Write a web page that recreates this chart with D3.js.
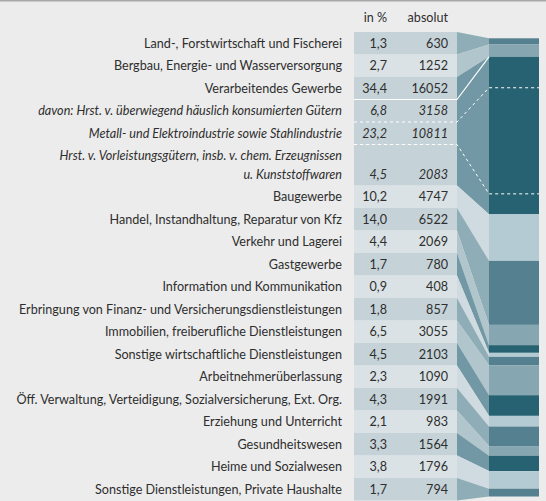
<!DOCTYPE html>
<html>
<head>
<meta charset="utf-8">
<script src="https://cdn.jsdelivr.net/npm/d3@7"></script>
<style>
  body { margin: 0; background: #ececec; }
  svg { display: block; font-family: Lato, sans-serif; }
</style>
</head>
<body>
<div class="container"></div>
<script>
var width = 546;
var height = 501;

// Wirtschaftszweige
var sectors = [
  'Land-, Forstwirtschaft und Fischerei',
  'Bergbau, Energie- und Wasserversorgung',
  'Verarbeitendes Gewerbe',
  'Baugewerbe',
  'Handel, Instandhaltung, Reparatur von Kfz',
  'Verkehr und Lagerei',
  'Gastgewerbe',
  'Information und Kommunikation',
  'Erbringung von Finanz- und Versicherungsdienstleistungen',
  'Immobilien, freiberufliche Dienstleistungen',
  'Sonstige wirtschaftliche Dienstleistungen',
  'Arbeitnehmerüberlassung',
  'Öff. Verwaltung, Verteidigung, Sozialversicherung, Ext. Org.',
  'Erziehung und Unterricht',
  'Gesundheitswesen',
  'Heime und Sozialwesen',
  'Sonstige Dienstleistungen, Private Haushalte'
];
var sharePct = [1.3, 2.7, 34.4, 10.2, 14.0, 4.4, 1.7, 0.9, 1.8, 6.5, 4.5, 2.3, 4.3, 2.1, 3.3, 3.8, 1.7];
var absolute = [630, 1252, 16052, 4747, 6522, 2069, 780, 408, 857, 3055, 2103, 1090, 1991, 983, 1564, 1796, 794];

// davon (Verarbeitendes Gewerbe)
var parentIndex = 2;
var subSectors = [
  'davon: Hrst. v. überwiegend häuslich konsumierten Gütern',
  'Metall- und Elektroindustrie sowie Stahlindustrie',
  'Hrst. v. Vorleistungsgütern, insb. v. chem. Erzeugnissen\nu. Kunststoffwaren'
];
var subPct = [6.8, 23.2, 4.5];
var subAbsolute = [3158, 10811, 2083];

var columnHeads = ['in %', 'absolut'];

var barColors = ['#54808f', '#86a6b1', '#266272', '#b5cbd4'];
var linkColors = ['#8fadb7', '#b1c5cc', '#7198a4', '#cfdbe0'];
var rowColors = ['#c5d2d8', '#dae2e5'];

var rowH = 22.5, lineH = 18.5, top0 = 32;
var tableX0 = 354, tableX1 = 457, barX0 = 489, barX1 = 539;
var labelX = 342, pctX = 387, absX = 448;
var fontSize = 12.6;

var fmtPct = function(v) { return d3.format('.1f')(v).replace('.', ','); };

// build rows
var rows = [];
sectors.forEach(function(s, i) {
  rows.push({label: s, pct: sharePct[i], abs: absolute[i], idx: i, sub: false});
  if (i === parentIndex) {
    subSectors.forEach(function(t, j) {
      rows.push({label: t, pct: subPct[j], abs: subAbsolute[j], idx: i, sub: true, j: j});
    });
  }
});
var y = top0;
rows.forEach(function(r) {
  r.lines = r.label.split('\n');
  r.top = y;
  r.h = rowH + lineH * (r.lines.length - 1);
  r.bottom = y + r.h;
  y = r.bottom;
});

var svg = d3.select('.container').append('svg')
  .attr('width', width)
  .attr('height', height);

svg.append('rect').attr('x', 0).attr('y', 0).attr('width', width).attr('height', height).attr('fill', '#ececec');
svg.append('rect').attr('x', 0).attr('y', 0).attr('width', width).attr('height', 1.5).attr('fill', '#a8a8a8');

var total = d3.sum(absolute);
var yBar = d3.scaleLinear().domain([0, total]).range([38.3, 496.5]);
var cum = d3.cumsum(absolute);
var segs = absolute.map(function(v, i) {
  return {i: i, y0: yBar(cum[i] - v), y1: yBar(cum[i])};
});
var subCum = d3.cumsum(subAbsolute);
var parentStart = cum[parentIndex] - absolute[parentIndex];

// table cells
svg.append('g').selectAll('rect').data(rows).enter().append('rect')
  .attr('x', tableX0).attr('width', tableX1 - tableX0)
  .attr('y', function(d) { return d.top; })
  .attr('height', function(d) { return d.h; })
  .attr('fill', function(d) { return rowColors[d.idx % 2]; });

// connectors
var mainRows = rows.filter(function(r) { return !r.sub; });
var subRows = rows.filter(function(r) { return r.sub; });
svg.append('g').selectAll('path').data(mainRows).enter().append('path')
  .attr('d', function(d) {
    var s = segs[d.idx];
    var b = d.idx === parentIndex ? subRows[subRows.length - 1].bottom : d.bottom;
    return d3.line()([[tableX1, d.top], [barX0, s.y0], [barX0, s.y1], [tableX1, b]]) + 'Z';
  })
  .attr('fill', function(d) { return linkColors[d.idx % 4]; });

// bar
svg.append('g').selectAll('rect').data(segs).enter().append('rect')
  .attr('x', barX0).attr('width', barX1 - barX0)
  .attr('y', function(d) { return d.y0; })
  .attr('height', function(d) { return d.y1 - d.y0; })
  .attr('fill', function(d) { return barColors[d.i % 4]; });

// separator lines for the davon block
var parentRow = mainRows[parentIndex];
var lines = svg.append('g').attr('stroke', '#fff').attr('fill', 'none');
lines.append('path')
  .attr('d', d3.line()([[tableX0, parentRow.bottom], [tableX1, parentRow.bottom], [barX0, segs[parentIndex].y0]]))
  .attr('stroke-width', 1.2);
subRows.slice(0, -1).forEach(function(r, j) {
  var by = yBar(parentStart + subCum[j]);
  lines.append('path')
    .attr('d', d3.line()([[tableX0, r.bottom], [tableX1, r.bottom], [barX0, by], [barX1, by]]))
    .attr('stroke-width', 1)
    .attr('stroke-dasharray', '3,3');
});

// header
svg.append('g').selectAll('text').data(columnHeads).enter().append('text')
  .attr('x', function(d, i) { return i === 0 ? pctX : absX; })
  .attr('y', 22)
  .attr('text-anchor', 'end')
  .attr('font-size', fontSize)
  .attr('fill', '#2e2e2e')
  .text(function(d) { return d; });

// labels and values
var rowText = svg.append('g').attr('font-size', fontSize).attr('fill', '#2e2e2e');
rows.forEach(function(r) {
  var base = r.top + 15.5;
  var t = rowText.append('text')
    .attr('x', labelX).attr('y', base)
    .attr('text-anchor', 'end')
    .attr('font-style', r.sub ? 'italic' : 'normal');
  r.lines.forEach(function(l, k) {
    t.append('tspan').attr('x', labelX).attr('y', base + k * lineH).text(l);
  });
  var vy = base + (r.lines.length - 1) * lineH;
  rowText.append('text').attr('x', pctX).attr('y', vy)
    .attr('text-anchor', 'end')
    .attr('font-style', r.sub ? 'italic' : 'normal')
    .text(fmtPct(r.pct));
  rowText.append('text').attr('x', absX).attr('y', vy)
    .attr('text-anchor', 'end')
    .attr('font-style', r.sub ? 'italic' : 'normal')
    .text(r.abs);
});
</script>
</body>
</html>
